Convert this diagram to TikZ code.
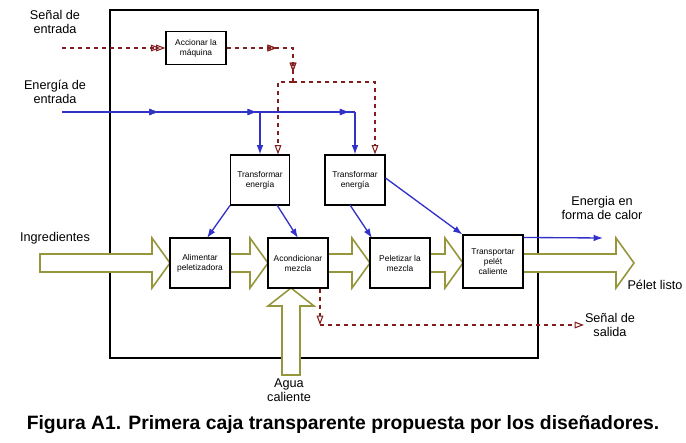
\documentclass[tikz,border=0pt]{standalone}
\usepackage{fontspec}
\setmainfont{Liberation Sans}
\usetikzlibrary{arrows.meta,decorations.markings}
\definecolor{olv}{RGB}{150,150,60}
\definecolor{dred}{RGB}{130,30,30}
\definecolor{blu}{RGB}{50,50,200}
\tikzset{
 box/.style={draw,thick,fill=white,inner sep=1pt,align=center,font=\fontsize{6.3}{7.5}\selectfont},
 lbl/.style={align=center,font=\fontsize{9.5}{10.5}\selectfont},
 sig/.style={dred,dashed,thick,-{Triangle[open,length=7pt,width=5pt]}},
 en/.style={blu,line width=1pt,-{Latex[length=7pt,width=5pt]}},
 midsig/.style={postaction={decorate},decoration={markings,mark=at position #1 with {\arrow[dred,solid]{Triangle[open,length=7pt,width=5pt]}}}},
 miden/.style={postaction={decorate},decoration={markings,mark=at position #1 with {\arrow[blu]{Latex[length=7pt,width=5pt]}}}},
 fat/.style={draw=olv,line width=1.2pt,fill=white,line join=miter}
}
\newcommand{\harrow}[4]{% x1 x2 yc halfbody
 \draw[fat] (#1,#3-#4) -- (#2-18,#3-#4) -- (#2-18,#3-25) -- (#2,#3) -- (#2-18,#3+25) -- (#2-18,#3+#4) -- (#1,#3+#4) -- cycle;}
\begin{document}
\begin{tikzpicture}[x=0.75pt,y=-0.75pt]
\useasboundingbox (0,0) rectangle (686,443);
\draw[thick] (110,10) rectangle (538,358);
\node[box,minimum width=60pt*0.75,minimum height=33pt*0.75] (acc) at (196,48) {Accionar la\\máquina};
\node[box,minimum width=59pt*0.75,minimum height=50pt*0.75] (t1) at (260,180) {Transformar\\energía};
\node[box,minimum width=60pt*0.75,minimum height=50pt*0.75] (t2) at (355,180) {Transformar\\energía};
% big arrows
\harrow{40}{170}{263}{9}
\harrow{230}{268}{263}{9}
\harrow{328}{370}{263}{9}
\harrow{430}{463}{263}{9}
\harrow{523}{634}{263}{9}
\draw[fat] (282,375) -- (282,306) -- (268,306) -- (291,288) -- (314,306) -- (300,306) -- (300,375) -- cycle;
\node[box,minimum width=60pt*0.75,minimum height=50pt*0.75] (ali) at (200,263) {Alimentar\\peletizadora};
\node[box,minimum width=60pt*0.75,minimum height=50pt*0.75] (aco) at (298,263) {Acondicionar\\mezcla};
\node[box,minimum width=60pt*0.75,minimum height=50pt*0.75] (pel) at (400,263) {Peletizar la\\mezcla};
\node[box,minimum width=60pt*0.75,minimum height=53pt*0.75] (tra) at (493,261.5) {Transportar\\pelét\\caliente};
% signals
\coordinate (sin) at (62,48);
\draw[sig,midsig=0.95] (sin) -- (acc.west);
\coordinate (c1) at (293,48);
\coordinate (c2) at (293,82);
\draw[dred,dashed,thick,midsig=0.5,midsig=0.9] (acc.east) -- (c1) -- (c2);
\draw[sig] (c2) -| (t1.north -| 278,0);
\draw[sig] (c2) -| (t2.north -| 375,0);
% energy
\coordinate (ein) at (62,112);
\draw[blu,line width=1pt,miden=0.33,miden=0.665,miden=0.98] (ein) -- (355,112);
\draw[en] (260,112) -- (t1.north -| 260,0);
\draw[en] (355,112) -- (t2.north);
\draw[en] (t1.south west) -- (207,238);
\draw[en] (277,205) -- (298,238);
\draw[en] (350,205) -- (372,238);
\draw[en] (t2.east) ++(0,-2) -- (tra.north west);
\coordinate (eout) at (603,238);
\draw[en] (tra.north east) ++(0,3) -- (eout);
\coordinate (sd) at (320,325);
\coordinate (sout) at (584,325);
\draw[dred,dashed,thick,-{Triangle[open,length=7pt,width=5pt]}] (aco.south -| 320,0) -- (sd);
\draw[sig] (sd) -- (sout);
% labels
\node[lbl] (l1) at (55,22) {Señal de\\entrada};
\node[lbl] (l2) at (55,92) {Energía de\\entrada};
\node[lbl] (l3) at (55,238) {Ingredientes};
\node[lbl] (l4) at (602,208) {Energia en\\forma de calor};
\node[lbl] (l5) at (655,285) {Pélet listo};
\node[lbl] (l6) at (610,325) {Señal de\\salida};
\node[lbl] (l7) at (289,390) {Agua\\caliente};
\node[font=\bfseries\fontsize{14.5}{16}\selectfont] (cap) at (343,425) {Figura A1. Primera caja transparente propuesta por los diseñadores.};
\end{tikzpicture}
\end{document}
